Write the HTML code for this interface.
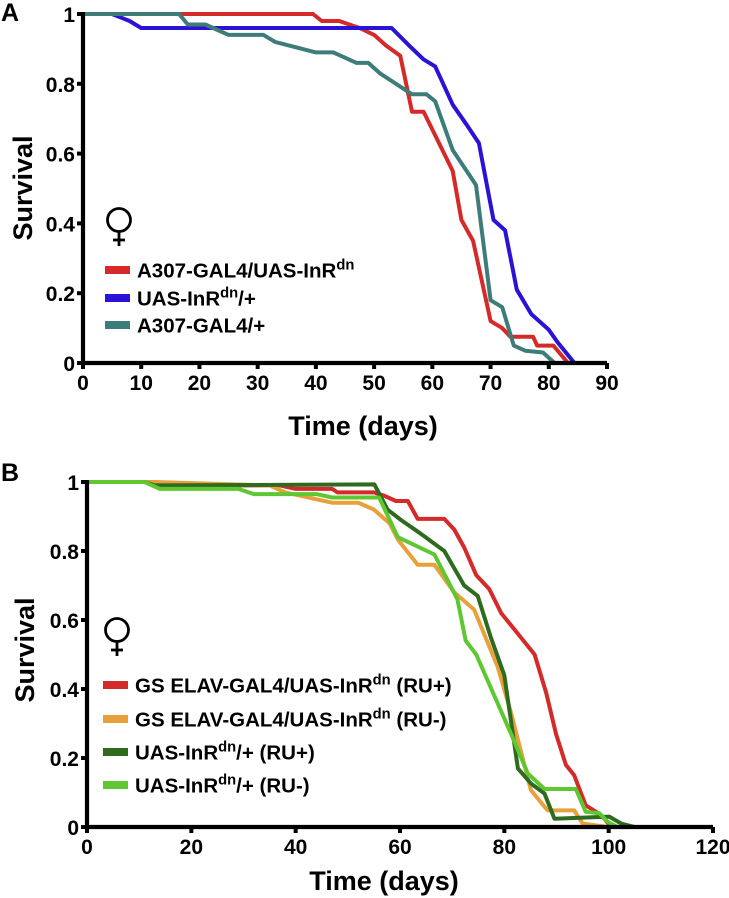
<!DOCTYPE html>
<html><head><meta charset="utf-8"><style>
html,body{margin:0;padding:0;background:#fff;}
svg{display:block;font-family:"Liberation Sans",sans-serif;}
</style></head><body>
<svg id="fig" width="729" height="898" viewBox="0 0 729 898" xmlns="http://www.w3.org/2000/svg">
<text x="1" y="21" font-size="25" font-weight="bold">A</text>
<text x="1" y="481" font-size="25" font-weight="bold">B</text>
<g id="pa"></g>
<g id="pb"></g>
</svg>
<script>
// Panel A data
const aXTicks = [0,10,20,30,40,50,60,70,80,90];
const aYTicks = [0,0.2,0.4,0.6,0.8,1];
const aYTickLabels = ["0","0.2","0.4","0.6","0.8","1"];
const aRedDays = [0,16.5,39.5,41,44,47.5,50,52,54.5,56.5,58.5,63.5,65,67,70,72,73.4,77.3,78,80.8,83.3];
const aRedSurv = [1,1,1,0.98,0.98,0.96,0.94,0.91,0.88,0.72,0.72,0.55,0.41,0.35,0.12,0.1,0.075,0.075,0.05,0.05,0];
const aBlueDays = [0,5,8,10,53,56,58.5,60.5,63.5,66,68,70.5,72.5,74.5,77,80,81.5,84.4];
const aBlueSurv = [1,1,0.98,0.96,0.96,0.91,0.87,0.85,0.74,0.68,0.63,0.41,0.38,0.21,0.14,0.095,0.06,0];
const aTealDays = [0,16.5,18,21,25,31,33,40,43,47,49,51,56.5,59,60.5,63.5,67.5,70,72,74,76,79,81];
const aTealSurv = [1,1,0.97,0.97,0.94,0.94,0.92,0.89,0.89,0.86,0.86,0.83,0.77,0.77,0.75,0.61,0.51,0.18,0.16,0.05,0.035,0.03,0];
// Panel B data
const bXTicks = [0,20,40,60,80,100,120];
const bYTicks = [0,0.2,0.4,0.6,0.8,1];
const bYTickLabels = ["0","0.2","0.4","0.6","0.8","1"];
const bRedDays = [0,13,18,37,40,47,48,55,57,59.2,61.5,63.4,68.5,70.4,72.3,74.6,77.1,79.4,82.6,85.8,88,89.9,91.8,93.4,95.6,97.6,99.2,100.4];
const bRedSurv = [1,1,0.99,0.99,0.98,0.98,0.97,0.97,0.96,0.945,0.945,0.893,0.893,0.862,0.81,0.73,0.69,0.62,0.56,0.5,0.39,0.27,0.18,0.15,0.063,0.044,0.024,0];
const bOrangeDays = [0,13,35,38,41,44,47,52,55,58,59.6,63.4,66.6,70.4,74.2,78.7,81.3,85.1,88.3,93.4,95,99.8];
const bOrangeSurv = [1,1,0.99,0.97,0.96,0.95,0.94,0.94,0.92,0.88,0.833,0.76,0.76,0.68,0.63,0.465,0.33,0.107,0.048,0.048,0.01,0];
const bDarkDays = [0,11,13,55.1,57.6,60.2,64,68.5,72.3,74.9,77.4,80,82.6,85.1,87.7,89.6,100.1,102.4,105];
const bDarkSurv = [1,1,0.99,0.993,0.92,0.89,0.85,0.8,0.7,0.67,0.55,0.44,0.17,0.126,0.097,0.024,0.03,0.01,0];
const bLightDays = [0,11,14,29,32,44,47,56,59.6,66.6,71,72.6,74.6,81.3,84.5,87.7,93.7,95.6,98.2,99.8,101.7];
const bLightSurv = [1,1,0.98,0.98,0.965,0.965,0.955,0.955,0.84,0.79,0.66,0.54,0.5,0.27,0.155,0.11,0.11,0.044,0.04,0.015,0];

const NS="http://www.w3.org/2000/svg";
function mk(tag,attrs,parent){const e=document.createElementNS(NS,tag);for(const k in attrs)e.setAttribute(k,attrs[k]);parent.appendChild(e);return e;}

function drawPanel(g,cfg){
  const sx=d=>cfg.x0+(d-cfg.xmin)*(cfg.x1-cfg.x0)/(cfg.xmax-cfg.xmin);
  const sy=v=>cfg.y0-v*(cfg.y0-cfg.y1);
  cfg.series.forEach(s=>{
    const pts=s.days.map((d,i)=>sx(d).toFixed(1)+","+sy(s.surv[i]).toFixed(1)).join(" ");
    const pl=mk("polyline",{points:pts,fill:"none",stroke:s.color,"stroke-width":4,"stroke-linejoin":"round"},g);
    
    
  });
  const ax=mk("path",{d:`M${cfg.x0},${cfg.y1-2} V${cfg.y0} H${cfg.x1}`,fill:"none",stroke:"#000","stroke-width":4.2},g);
  
  
  cfg.xticks.forEach(t=>{
    const x=sx(t);
    const tk=mk("line",{x1:x,x2:x,y1:cfg.y0,y2:cfg.y0+6,stroke:"#000","stroke-width":4},g);
    
    
    const tl=mk("text",{x:x,y:cfg.y0+27,"font-size":cfg.tickFs,"font-weight":"bold","text-anchor":"middle"},g);
    tl.textContent=String(t);
    
    
  });
  cfg.yticks.forEach((t,i)=>{
    const y=sy(t);
    const tk=mk("line",{x1:cfg.x0-6,x2:cfg.x0,y1:y,y2:y,stroke:"#000","stroke-width":4},g);
    
    
    const tl=mk("text",{x:cfg.x0-8,y:y+8,"font-size":cfg.tickFs,"font-weight":"bold","text-anchor":"end"},g);
    tl.textContent=cfg.ylabels[i];
    
    
  });
  const yt=mk("text",{x:0,y:0,"font-size":27,"font-weight":"bold","text-anchor":"middle",transform:`translate(${cfg.ytX},${cfg.ytY}) rotate(-90)`},g);
  yt.textContent="Survival";
  
  
  const xt=mk("text",{x:cfg.xtX,y:cfg.xtY,"font-size":27,"font-weight":"bold","text-anchor":"middle"},g);
  xt.textContent="Time (days)";
  
  
  const fs=mk("g",{},g);
  
  
  mk("circle",{cx:cfg.fx,cy:cfg.fy,r:11.5,fill:"none",stroke:"#000","stroke-width":2.8},fs);
  mk("line",{x1:cfg.fx,x2:cfg.fx,y1:cfg.fy+11.5,y2:cfg.fy+26,stroke:"#000","stroke-width":2.8},fs);
  mk("line",{x1:cfg.fx-6,x2:cfg.fx+6,y1:cfg.fy+20,y2:cfg.fy+20,stroke:"#000","stroke-width":2.8},fs);
  cfg.series.forEach((s,i)=>{
    const y=cfg.legY[i];
    const le=mk("g",{},g);
    
    
    mk("rect",{x:cfg.legX,y:y-4,width:25,height:8,fill:s.color},le);
    const t=mk("text",{x:cfg.legX+32,y:y+7.5,"font-size":cfg.legFs,"font-weight":cfg.legFw},le);
    const a=mk("tspan",{},t);a.textContent=s.lab[0];
    if(s.lab.length>1){
      const b=mk("tspan",{"font-size":cfg.legFs*0.72,dy:-8},t);b.textContent="dn";
      const c=mk("tspan",{dy:8},t);c.textContent=s.lab[1];
    }
  });
}

drawPanel(document.getElementById("pa"),{
  x0:83,x1:607,xmin:0,xmax:90,y0:363,y1:14,
  xticks:aXTicks,yticks:aYTicks,ylabels:aYTickLabels,tickFs:21,
  ytX:32,ytY:188,xtX:363,xtY:435,fx:119,fy:220,
  legX:105,legY:[270,298,325],legFs:20.5,legFw:"bold",
  series:[
    {id:"a307-uas-inr",color:"#d42a2a",days:aRedDays,surv:aRedSurv,lab:["A307-GAL4/UAS-InR",""]},
    {id:"uas-inr",color:"#2a12d6",days:aBlueDays,surv:aBlueSurv,lab:["UAS-InR","/+"]},
    {id:"a307",color:"#3e7c79",days:aTealDays,surv:aTealSurv,lab:["A307-GAL4/+"]}
  ]
});

drawPanel(document.getElementById("pb"),{
  x0:87,x1:713,xmin:0,xmax:120,y0:827,y1:482,
  xticks:bXTicks,yticks:bYTicks,ylabels:bYTickLabels,tickFs:21,
  ytX:34,ytY:650,xtX:384,xtY:890,fx:117,fy:630,
  legX:103,legY:[685,719,752,785],legFs:20.5,legFw:"bold",
  series:[
    {id:"gs-elav-ru-plus",color:"#d42a2a",days:bRedDays,surv:bRedSurv,lab:["GS ELAV-GAL4/UAS-InR"," (RU+)"]},
    {id:"gs-elav-ru-minus",color:"#e8a03a",days:bOrangeDays,surv:bOrangeSurv,lab:["GS ELAV-GAL4/UAS-InR"," (RU-)"]},
    {id:"uas-inr-ru-plus",color:"#2e6b1f",days:bDarkDays,surv:bDarkSurv,lab:["UAS-InR","/+ (RU+)"]},
    {id:"uas-inr-ru-minus",color:"#5fc732",days:bLightDays,surv:bLightSurv,lab:["UAS-InR","/+ (RU-)"]}
  ]
});
</script>
</body></html>
